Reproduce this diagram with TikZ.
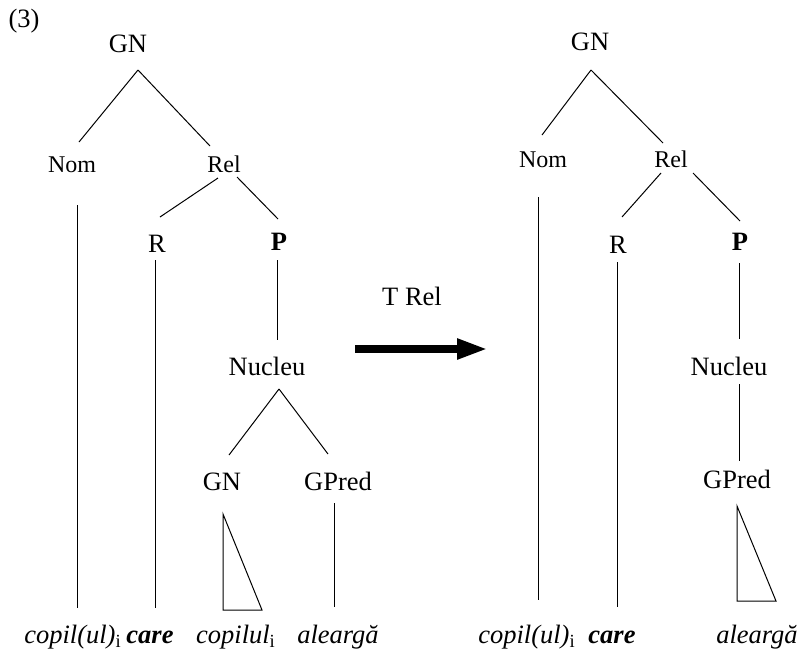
\documentclass[tikz,border=0pt]{standalone}
\usepackage{fontspec}
\setmainfont{Liberation Serif}
\usetikzlibrary{arrows.meta}

\tikzset{
	lbl/.style={inner sep=0pt, anchor=base, font=\fontsize{13.25}{16}\selectfont},
	sml/.style={lbl, font=\fontsize{12}{14}\selectfont},
	word/.style={lbl, font=\fontsize{13.25}{16}\selectfont\itshape},
}

\begin{document}
\begin{tikzpicture}[x=0.5pt, y=-0.5pt, line width=0.5pt]
	\useasboundingbox (0,0) rectangle (803,649);
	\node[lbl] (num) at (24,27.5) {(3)};

	% tree before the transformation
	\node[lbl] (GNa) at (128,52) {GN};
	\node[sml] (Noma) at (72,172) {Nom};
	\node[sml] (Rela) at (224,172) {Rel};
	\node[lbl] (Ra) at (157,252) {R};
	\node[lbl] (Pa) at (279,250) {\bfseries P};
	\node[lbl] (Nucleua) at (267,375) {Nucleu};
	\node[lbl] (GNsa) at (222,490) {GN};
	\node[lbl] (GPreda) at (338,490) {GPred};
	\node[word] (copila) at (73,643) {copil(ul)\textsubscript{\upshape i}};
	\node[word] (carea) at (150,643) {\bfseries care};
	\node[word] (copilula) at (236,643) {copilul\textsubscript{\upshape i}};
	\node[word] (alergaa) at (338,643) {aleargă};

	\draw ([shift={(10,18)}]GNa.base) -- ([shift={(7,-30)}]Noma.base);
	\draw ([shift={(10,18)}]GNa.base) -- ([shift={(-14,-26)}]Rela.base);
	\draw ([shift={(-6,6)}]Rela.base) -- ([shift={(3,-35)}]Ra.base);
	\draw ([shift={(13,5)}]Rela.base) -- ([shift={(-1,-31)}]Pa.base);
	\draw ([shift={(5,33)}]Noma.base) -- ([shift={(4,-35)}]copila.base);
	\draw ([shift={(-2,8)}]Ra.base) -- ([shift={(5,-35)}]carea.base);
	\draw ([shift={(-2,10)}]Pa.base) -- ([shift={(10,-35)}]Nucleua.base);
	\draw ([shift={(12,14)}]Nucleua.base) -- ([shift={(7,-35)}]GNsa.base);
	\draw ([shift={(12,14)}]Nucleua.base) -- ([shift={(-10,-36)}]GPreda.base);
	\draw ([shift={(1,24)}]GNsa.base) -- ([shift={(-13,-33)}]copilula.base) -- ([shift={(26,-33)}]copilula.base) -- cycle;
	\draw ([shift={(-4,13)}]GPreda.base) -- ([shift={(-4,-36)}]alergaa.base);

	% transformation
	\node[lbl] (trel) at (412,305) {T Rel};
	\coordinate (arrS) at (355,349);
	\coordinate (arrE) at (488,349);
	\draw[line width=4pt, -{Triangle[length=15.5pt, width=9.5pt]}] (arrS) -- (arrE);

	% tree after the transformation
	\node[lbl] (GNb) at (590,50) {GN};
	\node[sml] (Nomb) at (543,167) {Nom};
	\node[sml] (Relb) at (671,167) {Rel};
	\node[lbl] (Rb) at (618,253) {R};
	\node[lbl] (Pb) at (740,250) {\bfseries P};
	\node[lbl] (Nucleub) at (729,375) {Nucleu};
	\node[lbl] (GPredb) at (737,488) {GPred};
	\node[word] (copilb) at (527,643) {copil(ul)\textsubscript{\upshape i}};
	\node[word] (careb) at (612,643) {\bfseries care};
	\node[word] (alergab) at (757,643) {aleargă};

	\draw ([shift={(1,20)}]GNb.base) -- ([shift={(-1,-32)}]Nomb.base);
	\draw ([shift={(1,20)}]GNb.base) -- ([shift={(-8,-24)}]Relb.base);
	\draw ([shift={(-10,6)}]Relb.base) -- ([shift={(4,-36)}]Rb.base);
	\draw ([shift={(22,6)}]Relb.base) -- ([shift={(0,-29)}]Pb.base);
	\draw ([shift={(-5,30)}]Nomb.base) -- ([shift={(11,-43)}]copilb.base);
	\draw ([shift={(-1,9)}]Rb.base) -- ([shift={(5,-36)}]careb.base);
	\draw ([shift={(-1,13)}]Pb.base) -- ([shift={(10,-36)}]Nucleub.base);
	\draw ([shift={(10,9)}]Nucleub.base) -- ([shift={(2,-27)}]GPredb.base);
	\draw ([shift={(0,18)}]GPredb.base) -- ([shift={(-20,-42)}]alergab.base) -- ([shift={(19,-42)}]alergab.base) -- cycle;
\end{tikzpicture}
\end{document}
